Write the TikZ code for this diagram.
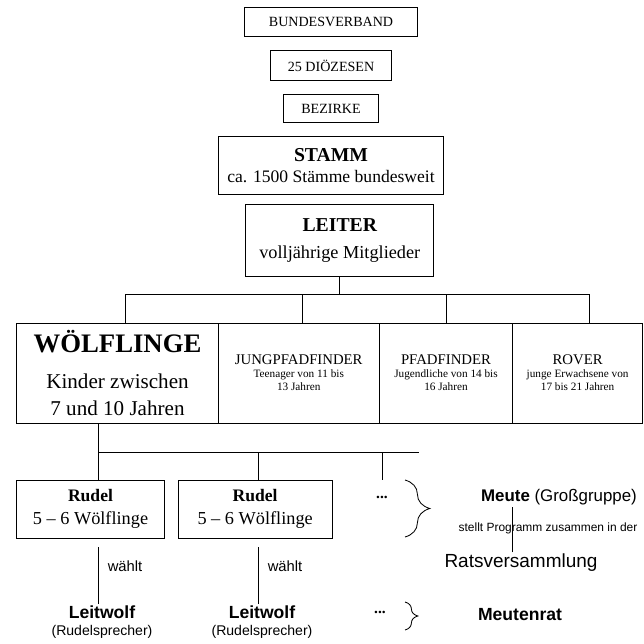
\documentclass[tikz,border=0pt]{standalone}
\usepackage{fontspec}
\setmainfont{Liberation Serif}
\setsansfont{Liberation Sans}
\usepackage{tikz}
\usetikzlibrary{positioning}
\usetikzlibrary{calc}
\usetikzlibrary{decorations.pathreplacing}
\newcommand{\setfs}[2]{\fontsize{#1}{#2}\selectfont}
\tikzset{
  orgbox/.style={draw, line width=0.6pt, inner sep=0pt, outer sep=0pt, align=center},
  sanstext/.style={font=\sffamily, inner sep=1pt, align=center},
  sbrace/.style={decorate, decoration={brace, amplitude=#1}, line width=0.6pt},
}

\begin{document}
\begin{tikzpicture}[x=0.025cm, y=-0.025cm, line width=0.6pt]
\useasboundingbox (0,0) rectangle (644,644);

% Verband oben
\node (bundesverband)
	[orgbox, minimum width=4.33cm, minimum height=0.73cm, font=\setfs{10}{12}]
	at (331,22) {BUNDESVERBAND};
\node (dioezesen)
	[orgbox, minimum width=3.03cm, minimum height=0.75cm, font=\setfs{10}{12}, below=3.5mm of bundesverband]
	{25 DIÖZESEN};
\node (bezirke)
	[orgbox, minimum width=2.38cm, minimum height=0.7cm, font=\setfs{10}{12}, below=3.5mm of dioezesen]
	{BEZIRKE};
\node (stamm)
	[orgbox, minimum width=5.63cm, minimum height=1.45cm, font=\setfs{12.5}{15.6}, below=3.5mm of bezirke]
	{{\setfs{14}{14}\bfseries STAMM}\\ca. 1500 Stämme bundesweit};
\node (leiter)
	[orgbox, minimum width=4.7cm, minimum height=1.8cm, font=\setfs{13}{19.2}, below=2.5mm of stamm, xshift=2.2mm]
	{{\setfs{14}{14}\bfseries LEITER}\\volljährige Mitglieder};

% Stufen
\node (woelf)
	[orgbox, minimum width=5.03cm, minimum height=2.5cm, font=\setfs{15}{19.2}]
	at (117.5,373) {{\setfs{19}{19}\bfseries WÖLFLINGE}\\[6pt]Kinder zwischen\\7 und 10 Jahren};
\node (jungpf)
	[orgbox, minimum width=4.03cm, minimum height=2.5cm, font=\setfs{8}{9.2}, right=0pt of woelf]
	{{\setfs{10.5}{10.5}JUNGPFADFINDER}\\Teenager von 11 bis\\13 Jahren};
\node (pfadf)
	[orgbox, minimum width=3.33cm, minimum height=2.5cm, font=\setfs{8}{9.2}, right=0pt of jungpf]
	{{\setfs{10.5}{10.5}PFADFINDER}\\Jugendliche von 14 bis\\16 Jahren};
\node (rover)
	[orgbox, minimum width=3.25cm, minimum height=2.5cm, font=\setfs{8}{9.2}, right=0pt of pfadf]
	{{\setfs{10.5}{10.5}ROVER}\\junge Erwachsene von\\17 bis 21 Jahren};

\draw (leiter.south) -- ++(0,18) coordinate (hubA);
\draw ([xshift=2mm]woelf.north) -- ([xshift=2mm]woelf.north |- hubA)
	-- ([xshift=3mm]rover.north |- hubA) -- ([xshift=3mm]rover.north);
\draw ([xshift=1mm]jungpf.north) -- ([xshift=1mm]jungpf.north |- hubA);
\draw (pfadf.north) -- (pfadf.north |- hubA);

% Rudel
\node (rudelA)
	[orgbox, minimum width=3.68cm, minimum height=1.45cm, font=\setfs{13}{16.4}]
	at (90.5,509) {{\setfs{12.5}{12.5}\bfseries Rudel}\\5 – 6 Wölflinge};
\node (rudelB)
	[orgbox, minimum width=3.85cm, minimum height=1.45cm, font=\setfs{13}{16.4}, right=3.5mm of rudelA]
	{{\setfs{12.5}{12.5}\bfseries Rudel}\\5 – 6 Wölflinge};
\node (dotsA) [inner sep=1pt, font=\setfs{11}{11}\bfseries] at (382,497) {...};

\coordinate (hubB) at ($(woelf.south)+(0,29)$);
\draw ([xshift=2mm]rudelA.north) -- ([xshift=2mm]rudelA.north |- woelf.south);
\draw ([xshift=2mm]rudelA.north |- hubB) -- ++(320,0);
\draw ([xshift=0.75mm]rudelB.north) -- ([xshift=0.75mm]rudelB.north |- hubB);
\draw (dotsA.center |- rudelA.north) -- (dotsA.center |- hubB);
\draw [sbrace=6.2mm] (405,480) -- (405,537);

\node (meute) [sanstext, font=\sffamily\setfs{12}{12}] at (559,497) {\textbf{Meute} (Großgruppe)};
\node (programm) [sanstext, font=\sffamily\setfs{8.5}{8.5}] at (548,528) {stellt Programm zusammen in der};
\node (rats) [sanstext, font=\sffamily\setfs{13.5}{13.5}] at (521,563) {Ratsversammlung};
\draw ([xshift=-2.25mm]rats.north) -- ([xshift=-2.25mm]rats.north |- meute.south);

% Leitwoelfe
\node (leitA)
	[sanstext, anchor=north, font=\sffamily\setfs{10}{12}]
	at (102,604) {{\setfs{12.5}{12.5}\bfseries Leitwolf}\\(Rudelsprecher)};
\node (leitB)
	[sanstext, anchor=north, font=\sffamily\setfs{10}{12}]
	at (262,604) {{\setfs{12.5}{12.5}\bfseries Leitwolf}\\(Rudelsprecher)};
\draw [shorten <=2.3mm] ([xshift=-1mm]leitA.north |- rudelA.south) -- ([xshift=-1mm]leitA.north)
	node [pos=0.42, right=2mm, sanstext, font=\sffamily\setfs{10.5}{10.5}] {wählt};
\draw [shorten <=2.3mm] ([xshift=-1mm]leitB.north |- rudelB.south) -- ([xshift=-1mm]leitB.north)
	node [pos=0.42, right=2mm, sanstext, font=\sffamily\setfs{10.5}{10.5}] {wählt};

\node (dotsB) [inner sep=1pt, font=\setfs{11}{11}\bfseries] at (380,612) {...};
\draw [sbrace=3.2mm] (405,602) -- (405,630);
\node (meutenrat) [sanstext, font=\sffamily\setfs{12.5}{12.5}\bfseries] at (520,615) {Meutenrat};
\end{tikzpicture}
\end{document}
